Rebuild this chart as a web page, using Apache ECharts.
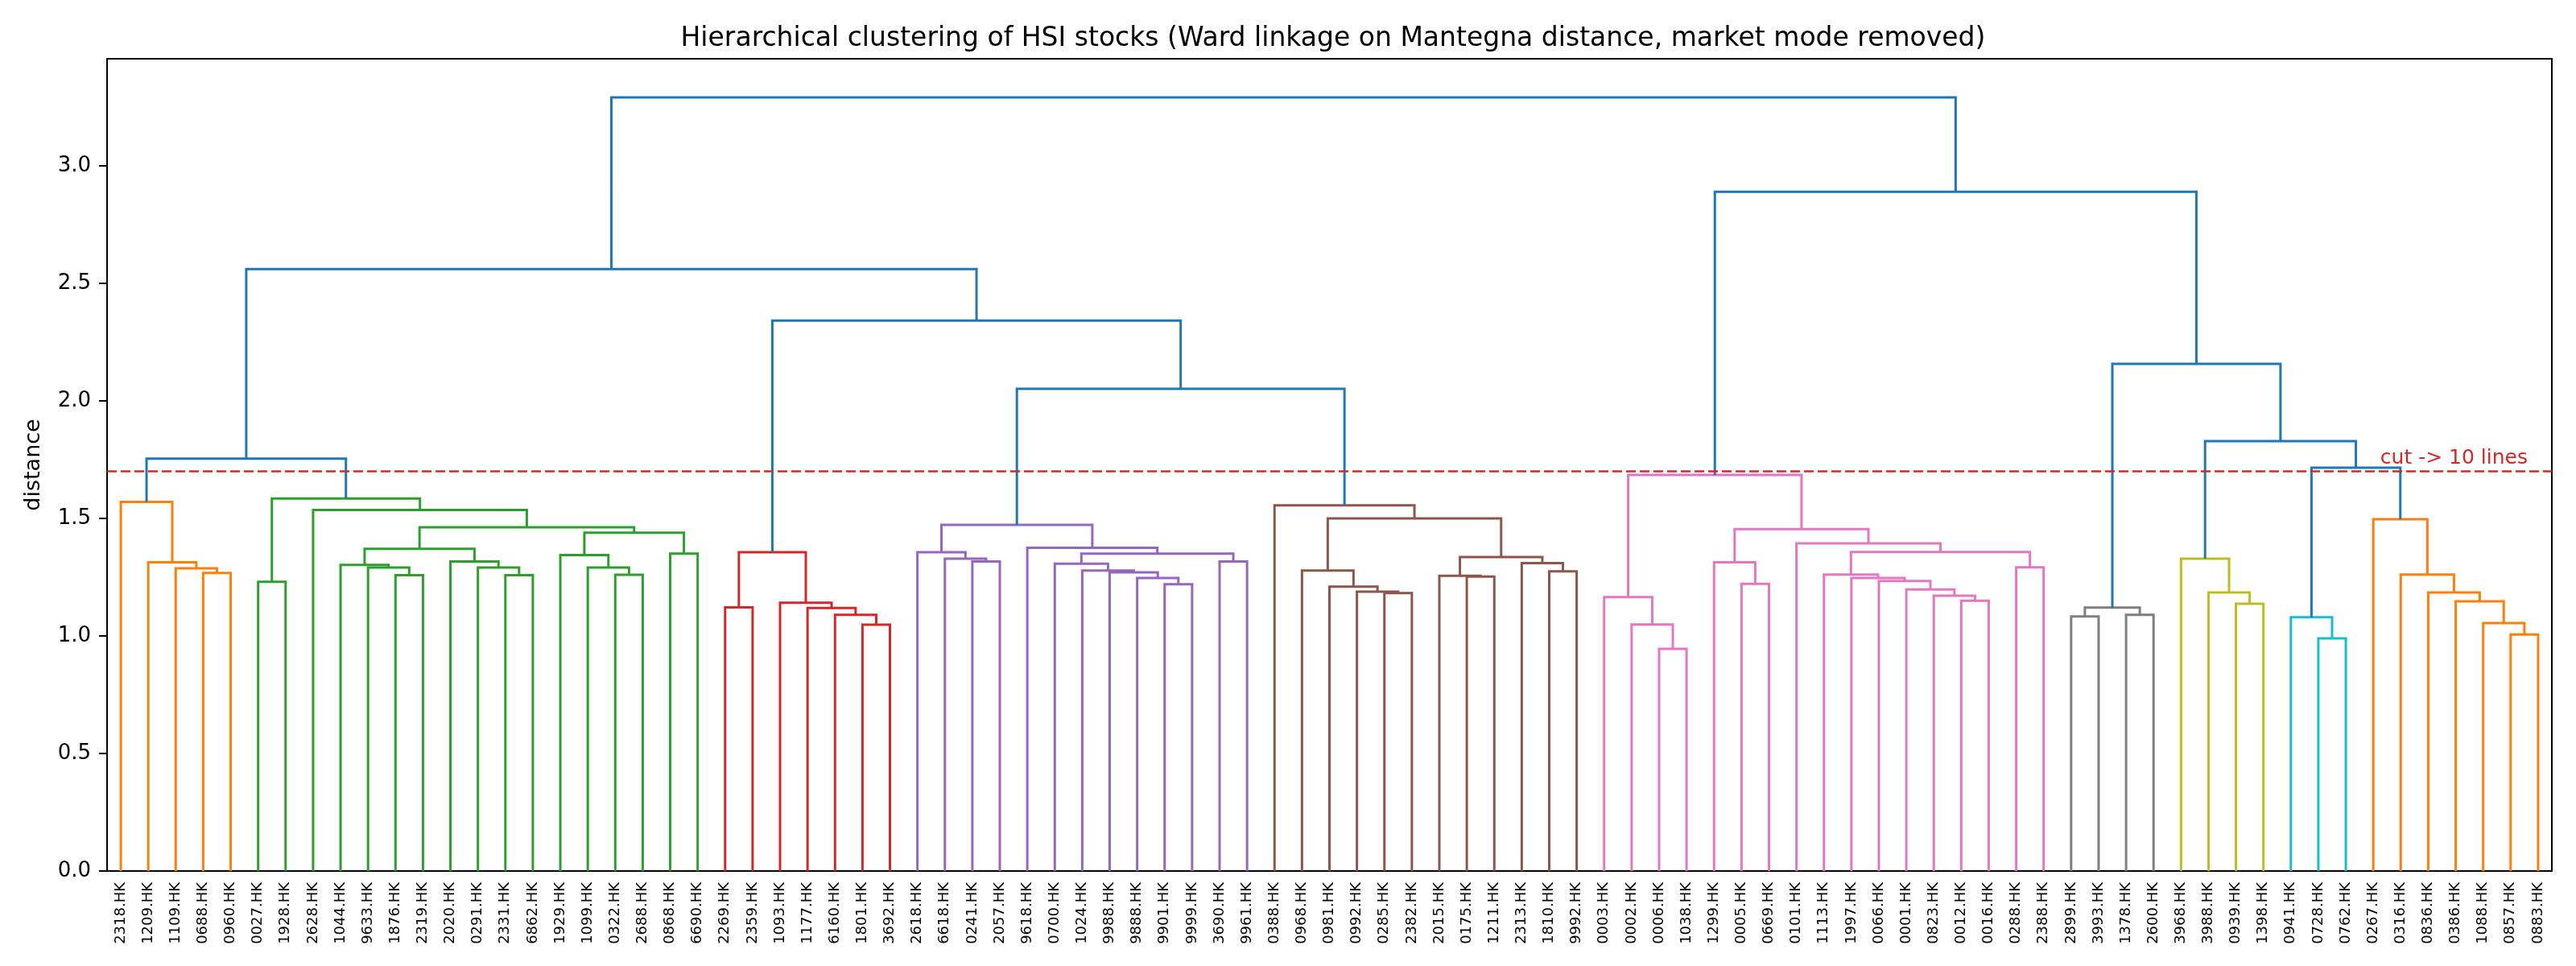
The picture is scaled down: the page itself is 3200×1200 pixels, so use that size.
<!DOCTYPE html>
<html>
<head>
<meta charset="utf-8">
<script src="https://cdn.jsdelivr.net/npm/echarts@6/dist/echarts.min.js"></script>
<style>
  html, body { margin: 0; padding: 0; background: #fff; }
  #main { width: 3200px; height: 1200px; }
</style>
</head>
<body>
<div id="main"></div>
<script>
// merge tree: node = [left, right, height], leaf = ticker code
var grpA = ['2318', ['1209', ['1109', ['0688', '0960', 1.268], 1.288], 1.313], 1.570];
var grpB = [['0027', '1928', 1.230],
  ['2628', [[['1044', ['9633', ['1876', '2319', 1.259], 1.291], 1.302],
             ['2020', ['0291', ['2331', '6862', 1.259], 1.291], 1.317], 1.371],
            [['1929', ['1099', ['0322', '2688', 1.260], 1.291], 1.344],
             ['0868', '6690', 1.350], 1.439], 1.462], 1.536], 1.585];
var grpC = [['2269', '2359', 1.122], ['1093', ['1177', ['6160', ['1801', '3692', 1.048], 1.090], 1.119], 1.141], 1.356];
var grpD = [['2618', ['6618', ['0241', '2057', 1.317], 1.329], 1.356],
  ['9618', [['0700', ['1024', ['9988', ['9888', ['9901', '9999', 1.220], 1.247], 1.271], 1.278], 1.307],
            ['3690', '9961', 1.317], 1.350], 1.375], 1.473];
var grpE = ['0388', [['0968', ['0981', ['0992', ['0285', '2382', 1.182], 1.188], 1.210], 1.278],
  [['2015', ['0175', '1211', 1.253], 1.256], ['2313', ['1810', '9992', 1.275], 1.310], 1.336], 1.500], 1.556];
var grpF = [['0003', ['0002', ['0006', '1038', 0.945], 1.049], 1.165],
  [['1299', ['0005', '0669', 1.222], 1.313],
   ['0101', [['1113', ['1997', ['0066', ['0001', ['0823', ['0012', '0016', 1.150], 1.171], 1.198], 1.234], 1.247], 1.261],
             ['0288', '2388', 1.292], 1.357], 1.394], 1.455], 1.685];
var grpG = [['2899', '3993', 1.083], ['1378', '2600', 1.090], 1.121];
var grpH = ['3968', ['3988', ['0939', '1398', 1.137], 1.185], 1.329];
var grpI = ['0941', ['0728', '0762', 0.990], 1.080];
var grpJ = ['0267', ['0316', ['0836', ['0386', ['1088', ['0857', '0883', 1.006], 1.055], 1.147], 1.185], 1.261], 1.497];

var tree = [[[grpA, grpB, 1.754], [grpC, [grpD, grpE, 2.051], 2.342], 2.561],
            [grpF, [grpG, [grpH, [grpI, grpJ, 1.716], 1.829], 2.158], 2.890], 3.291];

var cutHeight = 1.70;
var cutLabel = 'cut -> 10 lines';
var suffix = '.HK';

var palette = ['#ff7f0e', '#2ca02c', '#d62728', '#9467bd', '#8c564b', '#e377c2', '#7f7f7f', '#bcbd22', '#17becf'];
var aboveColor = '#1f77b4';
var font = 'DejaVu Sans';

// walk the tree left to right like scipy does: leaf i sits at 10*i+5
var leaves = [];
var links = [];
var colorIdx = 0;
function walk(node, color) {
  if (typeof node === 'string') {
    leaves.push(node + suffix);
    return { x: 10 * leaves.length - 5, y: 0 };
  }
  var h = node[2];
  var c = color;
  if (!c && h < cutHeight) c = palette[colorIdx++ % palette.length];
  var L = walk(node[0], c);
  var R = walk(node[1], c);
  links.push({
    coords: [[L.x, L.y], [L.x, h], [R.x, h], [R.x, R.y]],
    lineStyle: { color: c || aboveColor }
  });
  return { x: (L.x + R.x) / 2, y: h };
}
walk(tree, null);

var xMax = 10 * leaves.length;
var yMax = tree[2] * 1.05;

var chart = echarts.init(document.getElementById('main'));
var option = {
  animation: false,
  backgroundColor: '#fff',
  textStyle: { fontFamily: font },
  title: {
    text: 'Hierarchical clustering of HSI stocks (Ward linkage on Mantegna distance, market mode removed)',
    left: 1651,
    textAlign: 'center',
    top: 27,
    textStyle: { fontSize: 33, fontWeight: 'normal', color: '#000', fontFamily: font }
  },
  grid: {
    left: 133, right: 30, top: 73, bottom: 118,
    show: true, borderColor: '#000', borderWidth: 2
  },
  xAxis: [
    {
      type: 'value', min: 0, max: xMax,
      axisLine: { show: true, lineStyle: { color: '#000', width: 2 } },
      axisTick: { show: false },
      axisLabel: { show: false },
      splitLine: { show: false }
    },
    {
      type: 'category', position: 'bottom', data: leaves,
      axisLine: { show: false },
      axisTick: { show: false },
      axisLabel: { interval: 0, rotate: 90, fontSize: 18, color: '#000', margin: 14, fontFamily: font },
      splitLine: { show: false }
    }
  ],
  yAxis: {
    type: 'value', min: 0, max: yMax, interval: 0.5,
    name: 'distance', nameLocation: 'middle', nameGap: 78,
    nameTextStyle: { fontSize: 27, color: '#000', fontFamily: font },
    axisLine: { show: true, lineStyle: { color: '#000', width: 2 } },
    axisTick: { show: true, length: 10, lineStyle: { color: '#000', width: 2 } },
    axisLabel: {
      fontSize: 26, color: '#000', margin: 20, showMaxLabel: false,
      formatter: function (v) { return v.toFixed(1); }
    },
    splitLine: { show: false }
  },
  series: [
    {
      type: 'lines',
      coordinateSystem: 'cartesian2d',
      xAxisIndex: 0, yAxisIndex: 0,
      polyline: true,
      silent: true,
      lineStyle: { width: 3, opacity: 1, curveness: 0 },
      data: links
    },
    {
      type: 'line',
      xAxisIndex: 0, yAxisIndex: 0,
      data: [],
      markLine: {
        silent: true,
        symbol: 'none',
        data: [{ yAxis: cutHeight }],
        lineStyle: { color: '#d62728', type: [12, 5], width: 2.5 },
        label: {
          formatter: cutLabel, position: 'insideEndTop',
          color: '#d62728', fontSize: 25, fontFamily: font, distance: [30, 4]
        }
      }
    }
  ]
};
chart.setOption(option);
</script>
</body>
</html>
